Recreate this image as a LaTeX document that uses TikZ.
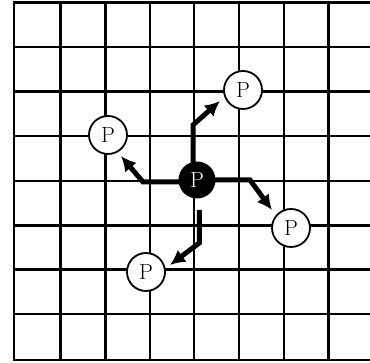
\documentclass[tikz,border=0pt]{standalone}
\usepackage{fontspec}
\usetikzlibrary{arrows.meta}
\pgfdeclarelayer{bg}
\pgfsetlayers{bg,main}
\begin{document}
\begin{tikzpicture}[x=1pt,y=1pt,
  gridline/.style={line width=2.4pt,black},
  pnode/.style={circle,draw=black,line width=1.8pt,fill=white,minimum size=38pt,inner sep=0pt,font=\fontsize{22}{26}\selectfont},
  cnode/.style={circle,fill=black,text=white,minimum size=37pt,inner sep=0pt,font=\fontsize{22}{26}\selectfont},
  arr/.style={line width=5pt,-{Latex[length=15pt,width=15pt]}}]
\useasboundingbox (0,0) rectangle (370,363);
% grid
\begin{pgfonlayer}{bg}
\foreach \x in {14,60.3,105.3,149.7,194,239,283.7,328.3}
  \draw[gridline] (\x,1.8) -- (\x,361.5);
\foreach \y in {2.7,47.3,91.7,136,181.3,225.7,269.7,314,360}
  \draw[gridline] (12.8,363-\y) -- (371,363-\y);
\end{pgfonlayer}
% nodes
\node[cnode] (c) at (197,183) {P};
\node[pnode] (ul) at (108,228) {P};
\node[pnode] (ur) at (243,273) {P};
\node[pnode] (r) at (291,135) {P};
\node[pnode] (b) at (146,91) {P};
% bend points and tips
\coordinate (b1) at (143,181);
\coordinate (t1) at (121,207);
\coordinate (b2) at (193,238);
\coordinate (t2) at (220,262);
\coordinate (b3) at (250,183);
\coordinate (t3) at (272,153);
\coordinate (s4) at (199.3,153);
\coordinate (b4) at (199.3,120);
\coordinate (t4) at (170,98);
\begin{pgfonlayer}{bg}
\draw[arr] (c.center |- b1) -- (b1) -- (t1);
\draw[arr] (b2 |- c.center) -- (b2) -- (t2);
\draw[arr] (c.center) -- (b3) -- (t3);
\draw[arr] (s4) -- (b4) -- (t4);
\end{pgfonlayer}
\end{tikzpicture}
\end{document}
